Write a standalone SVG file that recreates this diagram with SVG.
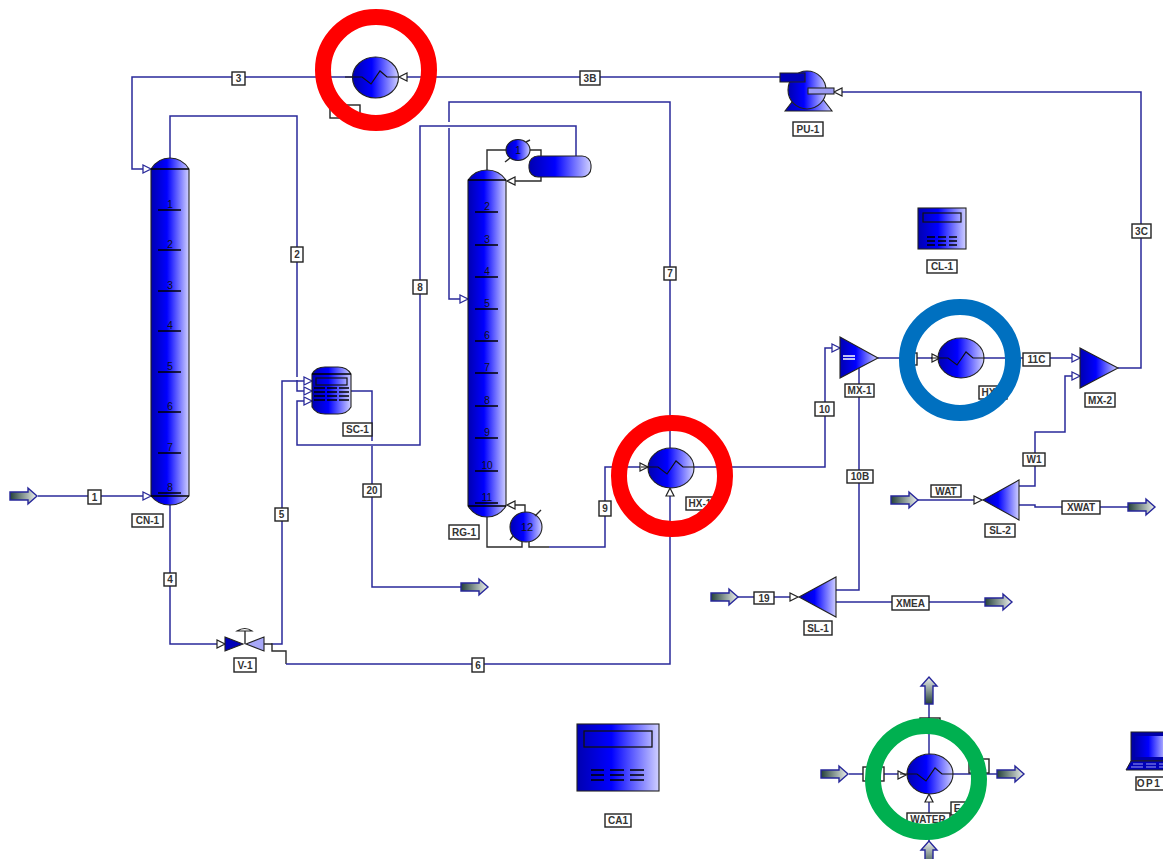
<svg xmlns="http://www.w3.org/2000/svg" width="1163" height="859" viewBox="0 0 1163 859">
<defs>
<linearGradient id="b"><stop offset="0" stop-color="#0000b0"/><stop offset=".42" stop-color="#0000ff"/><stop offset="1" stop-color="#d0d0ff"/></linearGradient>
<linearGradient id="g"><stop offset="0" stop-color="#24403a"/><stop offset="1" stop-color="#eef2ee"/></linearGradient>
<path id="inR" d="M-8-4V4L0 0Z" fill="#fff" stroke="#2a2a9a" stroke-width="1.3"/>
<path id="inK" d="M-8-4V4L0 0Z" fill="#fff" stroke="#222" stroke-width="1.2"/>
<path id="prod" d="M0-4H18V-8L27 0 18 8V4H0Z" fill="url(#g)" stroke="#26269a" stroke-width="1.4"/>
<path id="coil" d="M-30 0H-13L-4 7 5-6 12 0H23" fill="none" stroke="#111" stroke-width="1.2"/>
</defs>
<style>
.s{fill:none;stroke:#2a2a9a;stroke-width:1.5}
.k{fill:none;stroke:#2b2b2b;stroke-width:1.4}
.e{stroke:#222;stroke-width:1.1}
.t{stroke:#000;stroke-width:1.4;fill:none}
.l{fill:#fff;stroke:#222;stroke-width:1.4}
text{font-family:"Liberation Sans",Arial,sans-serif;font-size:10px;font-weight:700;fill:#333;text-anchor:middle}
.n{font-weight:400;fill:#111;font-size:10px}
.r{fill:none;stroke-width:16}
</style>
<rect width="1163" height="859" fill="#fff"/>

<g id="connectors">
<path class="s" d="M352 77H132V169H143"/>
<path class="s" d="M407 77H782"/>
<path class="s" d="M842 92H1141V368H1118"/>
<path class="s" d="M170 158V116H297V377"/>
<path class="s" d="M297 380V391H305"/>
<path class="s" d="M305 401H297V445H420V126H576V156"/>
<path class="s" d="M271 644H282V381H305"/>
<path class="s" d="M351 391H372V441M372 446V587H461"/>
<path class="s" d="M670 448V102H449V122M449 128V299H460"/>
<path class="s" d="M38 496H143"/>
<path class="s" d="M170 505V644H218"/>
<path class="k" d="M264 644H272V651H286V664"/>
<path class="s" d="M286 664H670V496"/>
<path class="s" d="M549 547H605V467H640"/>
<path class="s" d="M694 467H825V348H832"/>
<path class="s" d="M878 358H932"/>
<path class="s" d="M984 358H1072"/>
<path class="s" d="M843 358H859V590H836"/>
<path class="s" d="M1019 486H1035V432H1065V376H1072"/>
<path class="s" d="M917 500H974"/>
<path class="s" d="M1019 505H1035V507H1128"/>
<path class="s" d="M737 597H790"/>
<path class="s" d="M836 602H985"/>
<path class="s" d="M849 774H898"/>
<path class="s" d="M953 774H997"/>
<path class="s" d="M929 702V754"/>
<path class="s" d="M929 802V842"/>
<use href="#inR" transform="translate(151 169)"/>
<use href="#inK" transform="translate(399 77) rotate(180)"/>
<use href="#inK" transform="translate(834 92) rotate(180)"/>
<use href="#inR" transform="translate(151 496)"/>
<use href="#inK" transform="translate(225 644)"/>
<use href="#inR" transform="translate(312 381)"/>
<use href="#inR" transform="translate(312 391)"/>
<use href="#inR" transform="translate(312 401)"/>
<use href="#inR" transform="translate(468 299)"/>
<use href="#inK" transform="translate(648 467)"/>
<use href="#inK" transform="translate(670 488) rotate(-90)"/>
<use href="#inR" transform="translate(840 348)"/>
<use href="#inK" transform="translate(940 358)"/>
<use href="#inR" transform="translate(1080 358)"/>
<use href="#inR" transform="translate(1080 376)"/>
<use href="#inK" transform="translate(982 500)"/>
<use href="#inK" transform="translate(798 597)"/>
<use href="#inK" transform="translate(906 775)"/>
<use href="#inK" transform="translate(929 794) rotate(-90)"/>
<g id="stream-labels">
<rect class="l" x="232" y="72" width="13" height="13"/><text x="238.500" y="82">3</text>
<rect class="l" x="580" y="71" width="20" height="14"/><text x="590" y="81.500">3B</text>
<rect class="l" x="330" y="105" width="30" height="13"/>
<rect class="l" x="291" y="247" width="12" height="15"/><text x="297" y="258">2</text>
<rect class="l" x="413" y="280" width="14" height="14"/><text x="420" y="290.500">8</text>
<rect class="l" x="664" y="267" width="12" height="13"/><text x="670" y="277">7</text>
<rect class="l" x="1132" y="224" width="19" height="14"/><text x="1141.500" y="234.500">3C</text>
<rect class="l" x="363" y="484" width="18" height="13"/><text x="372" y="494">20</text>
<rect class="l" x="275" y="508" width="13" height="13"/><text x="281.500" y="518">5</text>
<rect class="l" x="88" y="490" width="13" height="14"/><text x="94.500" y="500.500">1</text>
<rect class="l" x="164" y="573" width="12" height="13"/><text x="170" y="583">4</text>
<rect class="l" x="472" y="658" width="12" height="14"/><text x="478" y="668.500">6</text>
<rect class="l" x="599" y="501" width="12" height="15"/><text x="605" y="512">9</text>
<rect class="l" x="815" y="402" width="19" height="14"/><text x="824.500" y="412.500">10</text>
<rect class="l" x="847" y="470" width="26" height="13"/><text x="860" y="480">10B</text>
<rect class="l" x="903" y="353" width="14" height="12"/>
<rect class="l" x="1023" y="353" width="27" height="13"/><text x="1036.500" y="363">11C</text>
<rect class="l" x="1023" y="453" width="22" height="13"/><text x="1034" y="463">W1</text>
<rect class="l" x="931" y="485" width="30" height="12"/><text x="946" y="494.500">WAT</text>
<rect class="l" x="1062" y="501" width="38" height="13"/><text x="1081" y="511">XWAT</text>
<rect class="l" x="754" y="592" width="20" height="12"/><text x="764" y="601.500">19</text>
<rect class="l" x="892" y="596" width="37" height="14"/><text x="910.500" y="606.500">XMEA</text>
<rect class="l" x="863" y="767" width="21" height="14"/>
<rect class="l" x="969" y="759" width="20" height="14"/>
<rect class="l" x="920" y="718" width="20" height="14"/>
<rect class="l" x="951" y="802" width="20" height="13"/><text x="957" y="812">E</text>
<rect class="l" x="907" y="813" width="43" height="12"/><text x="928" y="822.500">WATER</text>
</g>
</g>

<g id="E-1"><ellipse class="e" cx="375.500" cy="77.500" rx="23" ry="20.500" fill="url(#b)"/><use href="#coil" transform="translate(375 77)"/></g>

<g id="CN-1">
<path class="e" d="M151 169Q158 158 170 158T189 169V496Q182 505 170 505T151 496Z" fill="url(#b)"/>
<path class="t" d="M151 169H189M151 496H189M158 210H181M158 250H181M158 291H181M158 331H181M158 372H181M158 412H181M158 453H181M158 493H181"/>
<text class="n" x="170" y="208">1</text><text class="n" x="170" y="248">2</text><text class="n" x="170" y="289">3</text><text class="n" x="170" y="329">4</text><text class="n" x="170" y="370">5</text><text class="n" x="170" y="410">6</text><text class="n" x="170" y="451">7</text><text class="n" x="170" y="491">8</text>
<rect class="l" x="132" y="514" width="31" height="13"/><text x="147.500" y="524">CN-1</text>
</g>

<g id="RG-1">
<path class="e" d="M468 180Q475 170 487 170T506 180V506Q499 517 487 517T468 506Z" fill="url(#b)"/>
<path class="t" d="M468 180H506M468 506H506M475 212H498M475 245H498M475 277H498M475 309H498M475 341H498M475 373H498M475 406H498M475 438H498M475 471H498M475 503H498"/>
<text class="n" x="487" y="210">2</text><text class="n" x="487" y="243">3</text><text class="n" x="487" y="275">4</text><text class="n" x="487" y="307">5</text><text class="n" x="487" y="339">6</text><text class="n" x="487" y="371">7</text><text class="n" x="487" y="404">8</text><text class="n" x="487" y="436">9</text><text class="n" x="487" y="469">10</text><text class="n" x="487" y="501">11</text>
<rect class="l" x="449" y="525" width="30" height="14"/><text x="464" y="535.500">RG-1</text>
</g>

<g id="condenser">
<path class="k" d="M487 170V150H506M530 150H541V156M541 177V181H515"/>
<use href="#inK" transform="translate(507 181) rotate(180)"/>
<ellipse class="e" cx="518" cy="150" rx="12" ry="10.500" fill="url(#b)"/>
<path class="k" d="M526 142L530 140M510 158L505 162" stroke-width="1"/>
<text class="n" x="518" y="154">1</text>
<rect class="e" x="529" y="156" width="62" height="21" rx="9" fill="url(#b)"/>
</g>

<g id="reboiler">
<path class="k" d="M525 513V505H515M487 517V547H522V542M529 542V547H549"/>
<use href="#inK" transform="translate(507 505) rotate(180)"/>
<ellipse class="e" cx="526" cy="527" rx="16" ry="15" fill="url(#b)"/>
<path class="k" d="M535 516L541 510M513 536L510 540" stroke-width="1"/>
<text class="n" x="527" y="531" style="font-size:11px">12</text>
</g>

<g id="SC-1">
<path class="e" d="M312 374Q316 367 325 367H338Q347 367 351 374V407Q347 414 338 414H325Q316 414 312 407Z" fill="url(#b)"/>
<path class="t" d="M312 374H351"/>
<rect x="316" y="378" width="31" height="7" fill="none" stroke="#111" stroke-width="1.2"/>
<path class="t" d="M314 388H325M327 388H337M339 388H349M314 392H325M327 392H337M339 392H349M314 396H325M327 396H337M339 396H349M314 400H325M327 400H337M339 400H349"/>
<rect class="l" x="343" y="423" width="29" height="13"/><text x="357.500" y="433">SC-1</text>
</g>

<g id="V-1">
<path class="e" d="M225 637L243 644 225 651Z" fill="#0000b8"/>
<path class="e" d="M264 637L246 644 264 651Z" fill="#a8a8f8"/>
<path class="k" d="M245 644V630"/>
<path class="e" d="M237 631Q245 626 252 631Z" fill="#fff"/>
<rect class="l" x="234" y="658" width="22" height="14"/><text x="245" y="668.500">V-1</text>
</g>

<g id="HX-1"><ellipse class="e" cx="671" cy="468" rx="23" ry="20" fill="url(#b)"/><use href="#coil" transform="translate(671 467)"/>
<rect class="l" x="686" y="497" width="28" height="13"/><text x="700" y="507">HX-1</text></g>

<g id="PU-1">
<path class="e" d="M785 111L795 98H822L832 111Z" fill="url(#b)"/>
<circle class="e" cx="807" cy="90" r="19" fill="url(#b)"/>
<path class="e" d="M780 73H805V82H780Z" fill="#0000b8"/>
<rect class="e" x="808" y="88" width="26" height="6" fill="#9c9cf4"/>
<rect class="l" x="793" y="122" width="30" height="14"/><text x="808" y="132.500">PU-1</text>
</g>

<g id="CL-1">
<rect class="e" x="918" y="208" width="48" height="41" fill="url(#b)"/>
<rect x="923" y="213" width="38" height="9" fill="none" stroke="#111" stroke-width="1.2"/>
<path class="t" d="M927 237H935M938 237H946M949 237H957M927 241H935M938 241H946M949 241H957M927 245H935M938 245H946M949 245H957"/>
<rect class="l" x="927" y="260" width="30" height="13"/><text x="942" y="270">CL-1</text>
</g>

<g id="MX-1">
<path class="e" d="M840 337L878 358 840 378Z" fill="url(#b)"/>
<path d="M843 356h12M843 359h12" stroke="#fff" stroke-width="1.400"/>
<rect class="l" x="845" y="384" width="29" height="13"/><text x="859.500" y="394">MX-1</text>
</g>

<g id="HX-2"><ellipse class="e" cx="961" cy="358" rx="23" ry="20" fill="url(#b)"/><use href="#coil" transform="translate(961 358)"/>
<rect class="l" x="979" y="386" width="28" height="13"/><text x="993" y="396">HX-2</text></g>

<g id="MX-2">
<path class="e" d="M1080 348L1118 368 1080 388Z" fill="url(#b)"/>
<rect class="l" x="1085" y="393" width="30" height="14"/><text x="1100" y="403.500">MX-2</text>
</g>

<g id="SL-2">
<path class="e" d="M983 500L1019 480V520Z" fill="url(#b)"/>
<rect class="l" x="985" y="524" width="30" height="13"/><text x="1000" y="534">SL-2</text>
</g>

<g id="SL-1">
<path class="e" d="M799 597L836 577V617Z" fill="url(#b)"/>
<rect class="l" x="804" y="621" width="28" height="14"/><text x="818" y="631.500">SL-1</text>
</g>

<g id="products">
<use href="#prod" transform="translate(10 496)"/>
<use href="#prod" transform="translate(461 587)"/>
<use href="#prod" transform="translate(891 500)"/>
<use href="#prod" transform="translate(1128 507)"/>
<use href="#prod" transform="translate(711 597)"/>
<use href="#prod" transform="translate(985 602)"/>
<use href="#prod" transform="translate(821 774)"/>
<use href="#prod" transform="translate(997 774)"/>
<use href="#prod" transform="translate(929 704) rotate(-90)"/>
<use href="#prod" transform="translate(929 868) rotate(-90)"/>
</g>

<g id="CA1">
<rect class="e" x="577" y="724" width="82" height="67" fill="url(#b)"/>
<rect x="584" y="731" width="68" height="16" fill="none" stroke="#111" stroke-width="1.300"/>
<path class="t" d="M591 770H604M610 770H624M630 770H644M591 775H604M610 775H624M630 775H644M591 780H604M610 780H624M630 780H644"/>
<rect class="l" x="605" y="814" width="26" height="13"/><text x="618" y="824">CA1</text>
</g>

<g id="WATER-HX"><ellipse class="e" cx="930" cy="774" rx="23" ry="20" fill="url(#b)"/><use href="#coil" transform="translate(930 774)"/></g>

<g id="OP1">
<rect x="1131" y="732" width="36" height="29" fill="#0000a8" stroke="#222"/>
<rect x="1135" y="736" width="32" height="21" fill="url(#b)"/>
<path d="M1131 761H1167V770H1126Z" fill="#0000b8" stroke="#222"/>
<path d="M1133 764h10M1146 764h10M1159 764h8M1131 767h12M1146 767h10M1159 767h8" stroke="#9c9cf4"/>
<rect class="l" x="1136" y="777" width="30" height="13"/><text x="1149" y="787" style="letter-spacing:1.5px">OP1</text>
</g>

<g id="highlights">
<circle class="r" cx="376" cy="70" r="53" stroke="#ff0000"/>
<circle class="r" cx="672" cy="476" r="53" stroke="#ff0000"/>
<circle class="r" cx="960" cy="360" r="53" stroke="#0070c0"/>
<circle class="r" cx="926" cy="779" r="53" stroke="#00b050"/>
</g>
</svg>
